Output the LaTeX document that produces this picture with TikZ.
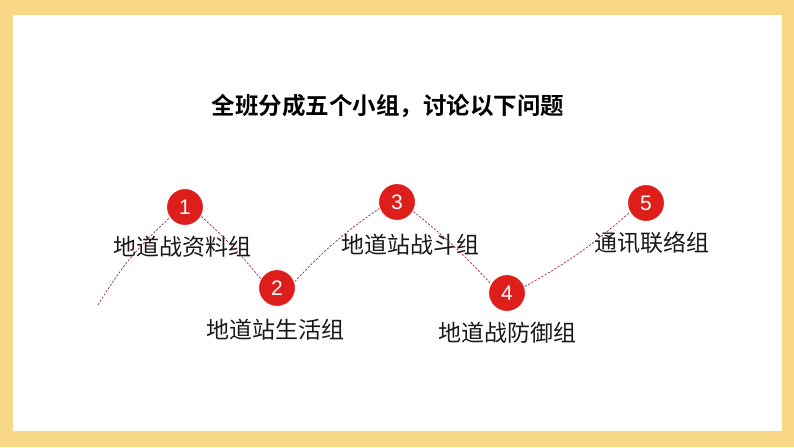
\documentclass[tikz,border=0pt]{standalone}
\usepackage{fontspec}
\newfontfamily\cjk{Noto Sans CJK SC}
\newfontfamily\cjkb{Noto Sans CJK SC Bold}
\newfontfamily\digitfont{Liberation Sans}
\definecolor{frameyellow}{RGB}{248,216,134}
\definecolor{circred}{RGB}{222,30,26}
\definecolor{pathred}{RGB}{150,40,80}
\tikzset{
  numcirc/.style={circle, fill=circred, draw=white, line width=1pt, minimum size=37pt, inner sep=0pt, text=white, font=\digitfont\fontsize{21}{21}\selectfont},
  grouplabel/.style={font=\cjk\fontsize{23}{23}\selectfont, text=black!90, inner sep=0pt, anchor=center},
  wave/.style={draw=pathred, line width=0.7pt, dash pattern=on 2.2pt off 1.6pt},
}
\begin{document}
\begin{tikzpicture}[x=1pt,y=-1pt]
\useasboundingbox (0,0) rectangle (794,447);
\fill[frameyellow] (0,0) rectangle (794,447);
\fill[white] (13,15) rectangle (782,431);
\node[font=\cjkb\fontsize{23.5}{23.5}\selectfont, inner sep=0pt] (title) at (388,106) {全班分成五个小组，讨论以下问题};
\coordinate (s) at (98,305);
\node[numcirc] (c1) at (185,207) {1};
\node[numcirc] (c2) at (277,288) {2};
\node[numcirc] (c3) at (397,202) {3};
\node[numcirc] (c4) at (507,293) {4};
\node[numcirc] (c5) at (646,203) {5};
\node[grouplabel] (l1) at (182,247) {地道战资料组};
\node[grouplabel] (l2) at (275,330) {地道站生活组};
\node[grouplabel] (l3) at (410,245) {地道站战斗组};
\node[grouplabel] (l4) at (507,333) {地道战防御组};
\node[grouplabel] (l5) at (652,243) {通讯联络组};
\draw[wave] (s) to[bend left=8] (c1.215);
\draw[wave] (c1.-30) to[bend left=4] (c2.150);
\draw[wave] (c2.20) to[bend left=6] (c3.200);
\draw[wave] (c3.-30) to[bend left=4] (c4.150);
\draw[wave] (c4.20) to[bend right=6] (c5.210);
\end{tikzpicture}
\end{document}
